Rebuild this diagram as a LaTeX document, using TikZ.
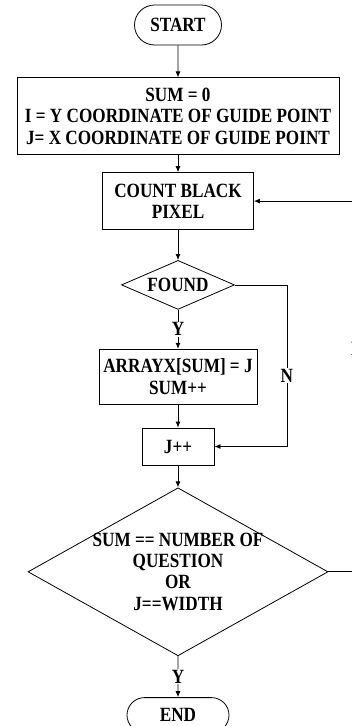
\documentclass[tikz,border=0pt]{standalone}
\usepackage{fontspec}
\setmainfont{Liberation Serif}[FakeStretch=0.85]
\usetikzlibrary{shapes.geometric,shapes.misc,arrows.meta,positioning}

\begin{document}
\begin{tikzpicture}[>={Latex[length=6pt,width=5pt]}, line width=0.8pt,
  font=\fontsize{20.2}{21.3}\selectfont\bfseries,
  term/.style={draw,rounded rectangle,inner sep=0pt},
  procbox/.style={draw,rectangle,align=center,inner sep=0pt},
  decision/.style={draw,diamond,inner sep=0pt},
  lbl/.style={fill=white,inner sep=1pt}]
  \useasboundingbox (0,0) rectangle (352pt,-726pt);
  \node[term,minimum width=87pt,minimum height=40pt] (start) at (178pt,-25pt) {START};
  \node[procbox,minimum width=322pt,minimum height=77pt,below=32pt of start] (init)
    {SUM = 0\\I = Y COORDINATE OF GUIDE POINT\\J= X COORDINATE OF GUIDE POINT};
  \node[procbox,minimum width=151pt,minimum height=57pt,below=17pt of init] (count) {COUNT BLACK\\PIXEL};
  \node[decision,aspect=2.3,minimum width=113pt,minimum height=49pt,below=30pt of count] (found) {FOUND};
  \node[procbox,minimum width=158pt,minimum height=55pt,below=39pt of found] (store) {ARRAYX[SUM] = J\\SUM++};
  \node[procbox,minimum width=72pt,minimum height=37pt,below=23pt of store] (jinc) {J++};
  \node[decision,minimum width=300pt,minimum height=168pt,below=22pt of jinc] (check) {};
  \node[align=center] (checktxt) at (check) {SUM == NUMBER OF\\QUESTION\\OR\\J==WIDTH};
  \node[term,minimum width=102pt,minimum height=35pt,below=41pt of check] (stop) {END};
  \draw[->] (start) -- (init);
  \draw[->] (init) -- (count);
  \draw[->] (count) -- (found);
  \draw[->] (found) -- node[lbl] {Y} (store);
  \draw[->] (store) -- (jinc);
  \draw[->] (found.east) -- ++(52pt,0) |- node[lbl,pos=0.28] {N} (jinc.east);
  \draw[->] (jinc) -- (check);
  \draw[->] (check) -- node[lbl] {Y} (stop);
  \draw[->] (check.east) -- ++(29pt,0) |- node[lbl,pos=0.3] {N} (count.east);
\end{tikzpicture}
\end{document}
